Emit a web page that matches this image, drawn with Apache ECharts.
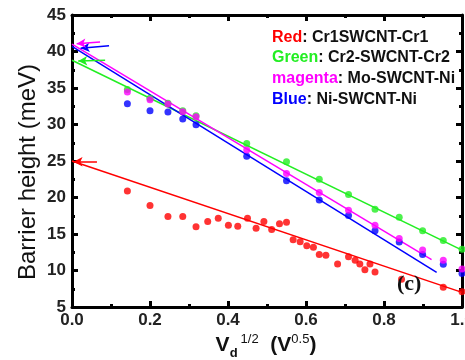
<!DOCTYPE html>
<html>
<head>
<meta charset="utf-8">
<script src="https://cdn.jsdelivr.net/npm/echarts@6/dist/echarts.min.js"></script>
<style>
  html, body { margin: 0; padding: 0; background: #fff; }
  #chart { width: 465px; height: 360px; }
</style>
</head>
<body>
<div id="chart"></div>
<script>
// Barrier height vs. square root of drain voltage for four contact types
const xTicks = [0.0, 0.2, 0.4, 0.6, 0.8, 1.0];
const yTicks = [5, 10, 15, 20, 25, 30, 35, 40, 45];

// Cr1-SWCNT-Cr1 (red)
const redX = [0.142, 0.2, 0.246, 0.284, 0.318, 0.348, 0.375, 0.401, 0.425, 0.45, 0.472, 0.492, 0.512, 0.532, 0.55,
              0.567, 0.585, 0.602, 0.619, 0.634, 0.651, 0.681, 0.709, 0.726, 0.738, 0.751, 0.764, 0.777, 0.845, 0.952, 1.0];
const redY = [20.9, 18.9, 17.4, 17.4, 16.0, 16.7, 17.15, 16.2, 16.05, 17.15, 15.8, 16.7, 15.6, 16.4, 16.6,
              14.2, 13.95, 13.4, 13.2, 12.2, 12.1, 10.9, 11.9, 11.4, 10.9, 10.1, 10.9, 9.8, 8.8, 7.7, 7.1];

// shared bias points for the other three devices
const devX = [0.142, 0.2, 0.246, 0.284, 0.318, 0.448, 0.55, 0.634, 0.709, 0.777, 0.839, 0.899, 0.952, 1.0];
const greenY   = [34.8, 33.6, 32.9, 31.9, 31.2, 27.4, 24.9, 22.5, 20.4, 18.4, 17.3, 15.45, 14.1, 12.9];
const magentaY = [34.45, 33.4, 32.8, 31.75, 31.05, 26.5, 23.3, 20.7, 18.25, 16.2, 14.4, 12.8, 11.4, 10.2];
const blueY    = [32.85, 31.9, 31.7, 30.75, 29.95, 25.65, 22.3, 19.65, 17.55, 15.45, 13.9, 12.2, 10.85, 9.6];

// linear fits: [start, end] as [x, y]
const redFit     = [[0, 25.0], [1.0, 7.0]];
const greenFit   = [[0, 38.8], [1.0, 12.8]];
const magentaFit = [[0, 41.0], [0.922, 11.5]];
const blueFit    = [[0, 40.7], [0.935, 9.75]];

// arrows marking the zero-bias intercepts: [tail, head]
const redArrow     = [[0.064, 24.9], [0.004, 24.9]];
const greenArrow   = [[0.085, 38.8], [0.016, 38.7]];
const magentaArrow = [[0.072, 41.3], [0.012, 41.05]];
const blueArrow    = [[0.095, 40.8], [0.022, 40.45]];

const C = { red: '#ff0000', green: '#22ee22', magenta: '#ff00ff', blue: '#0000ff' };

function zip(xs, ys) { return xs.map((x, i) => [x, ys[i]]); }

function scatter(name, xs, ys, color) {
  return {
    name, type: 'scatter', data: zip(xs, ys), symbol: 'circle', symbolSize: 7,
    itemStyle: { color }, silent: true, z: 3
  };
}
function fit(name, pts, arrow, color) {
  return {
    name, type: 'line', data: pts, showSymbol: false, symbol: 'none',
    lineStyle: { color, width: 1.5 }, silent: true, z: 2,
    markLine: {
      silent: true, symbol: ['none', 'arrow'], symbolSize: [7, 9], animation: false,
      lineStyle: { color, width: 1.5, type: 'solid' }, label: { show: false },
      data: [[{ coord: arrow[0] }, { coord: arrow[1] }]]
    }
  };
}

const font = 'Arial, "Liberation Sans", sans-serif';
const labelStyle = { fontFamily: font, fontSize: 17, fontWeight: 'bold', color: '#222' };
const axisLine = { show: true, onZero: false, lineStyle: { color: '#000', width: 3 } };

function xAx(pos, labels) {
  return {
    type: 'value', position: pos, min: 0, max: 1, interval: 0.2,
    axisLine, splitLine: { show: false },
    axisTick: { inside: true, length: 6, lineStyle: { color: '#000', width: 3 } },
    minorTick: { show: true, splitNumber: 2, length: 3, lineStyle: { color: '#000', width: 3 } },
    axisLabel: labels ? Object.assign({ margin: 5, formatter: v => v.toFixed(1) }, labelStyle) : { show: false }
  };
}
function yAx(pos, labels) {
  return {
    type: 'value', position: pos, min: 5, max: 45, interval: 5,
    axisLine, splitLine: { show: false },
    axisTick: { inside: true, length: 6, lineStyle: { color: '#000', width: 3 } },
    minorTick: { show: true, splitNumber: 2, length: 3, lineStyle: { color: '#000', width: 3 } },
    axisLabel: labels ? Object.assign({ margin: 6 }, labelStyle) : { show: false }
  };
}

const legendFont = 'bold 16px ' + font;

const chart = echarts.init(document.getElementById('chart'), null, { renderer: 'canvas' });
chart.setOption({
  animation: false,
  backgroundColor: '#fff',
  grid: { left: 72, right: 3, top: 15, bottom: 53, containLabel: false, outerBoundsMode: 'none' },
  xAxis: [xAx('bottom', true), xAx('top', false)],
  yAxis: [yAx('left', true), yAx('right', false)],
  series: [
    fit('Cr2-SWCNT-Cr2 fit', greenFit, greenArrow, C.green),
    fit('Ni-SWCNT-Ni fit', blueFit, blueArrow, C.blue),
    fit('Mo-SWCNT-Ni fit', magentaFit, magentaArrow, C.magenta),
    fit('Cr1SWCNT-Cr1 fit', redFit, redArrow, C.red),
    scatter('Cr2-SWCNT-Cr2', devX, greenY, C.green),
    scatter('Ni-SWCNT-Ni', devX, blueY, C.blue),
    scatter('Mo-SWCNT-Ni', devX, magentaY, C.magenta),
    scatter('Cr1SWCNT-Cr1', redX, redY, C.red)
  ],
  graphic: [
    {
      type: 'text', left: 272, top: 27, z: 10,
      style: {
        text: '{r|Red}: Cr1SWCNT-Cr1\n{g|Green}: Cr2-SWCNT-Cr2\n{m|magenta}: Mo-SWCNT-Ni\n{b|Blue}: Ni-SWCNT-Ni',
        font: legendFont, fill: '#111', lineHeight: 20.7,
        rich: {
          r: { fill: C.red, font: legendFont, lineHeight: 20.7 },
          g: { fill: C.green, font: legendFont, lineHeight: 20.7 },
          m: { fill: C.magenta, font: legendFont, lineHeight: 20.7 },
          b: { fill: C.blue, font: legendFont, lineHeight: 20.7 }
        }
      }
    },
    {
      type: 'text', left: 397, top: 273, z: 10,
      style: { text: '(c)', font: 'bold 22px "Liberation Serif", "Times New Roman", serif', fill: '#111' }
    },
    {
      type: 'text', x: 28, y: 172, rotation: Math.PI / 2, z: 10,
      style: {
        text: 'Barrier height (meV)', font: '24px ' + font, fill: '#111',
        textAlign: 'center', textVerticalAlign: 'middle'
      }
    },
    {
      type: 'text', x: 266, y: 345, z: 10,
      style: {
        text: '{v|V}{sub|d}{sup|1/2}{v|  (V}{sup2|0.5}{v|)}',
        textAlign: 'center', textVerticalAlign: 'middle',
        rich: {
          v: { font: 'bold 21px ' + font, fill: '#111', verticalAlign: 'middle' },
          sub: { font: 'bold 13px ' + font, fill: '#111', padding: [16, 0, 0, 0] },
          sup: { font: '13px ' + font, fill: '#111', padding: [0, 0, 12, 3] },
          sup2: { font: '13px ' + font, fill: '#111', padding: [0, 0, 12, 0] }
        }
      }
    }
  ]
});
</script>
</body>
</html>
